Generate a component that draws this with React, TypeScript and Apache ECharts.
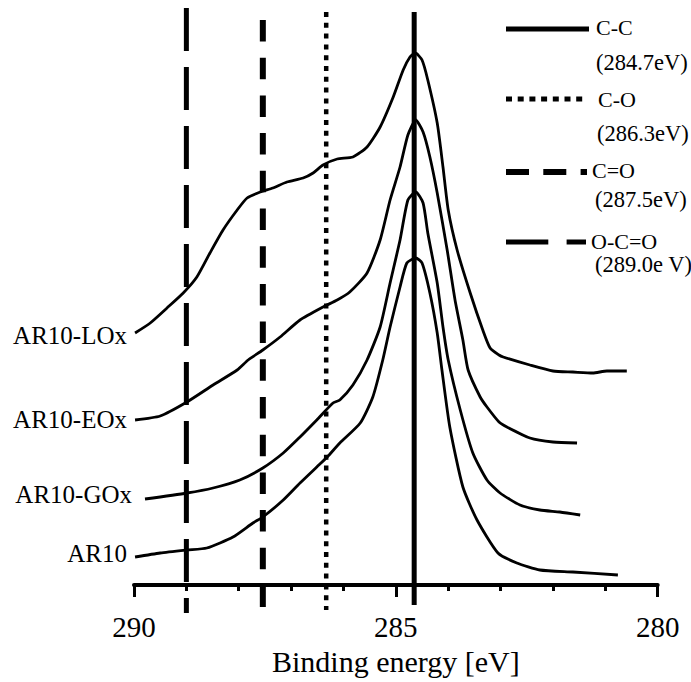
import React, { useEffect, useRef } from 'react';
import * as echarts from 'echarts';

// Binding energy axis [eV] (reversed: 290 on the left, 280 on the right)
const X_MIN = 280;
const X_MAX = 290;
const MAJOR_STEP = 5;
const AXIS_TITLE = 'Binding energy [eV]';

// Intensity (arbitrary units, offset stacked spectra)
const Y_MIN = -28;
const Y_MAX = 577;
const BASELINE = 0;

// Spectra: [binding energy (eV), intensity (a.u.)]
const AR10_LOX = [
  [289.98, 252], [289.69, 262], [289.37, 277], [289.06, 292], [288.8, 308], [288.55, 332],
  [288.3, 355], [288.03, 375], [287.84, 387], [287.59, 393], [287.35, 397], [287.08, 403],
  [286.77, 407], [286.58, 412], [286.39, 420], [286.12, 426], [285.82, 428], [285.55, 438],
  [285.3, 458], [285.05, 488], [284.86, 515], [284.73, 528], [284.63, 532], [284.5, 525],
  [284.39, 505], [284.21, 462], [284.1, 418], [284.0, 375], [283.83, 335], [283.58, 292],
  [283.34, 255], [283.2, 237], [283.03, 230], [282.95, 228], [282.44, 220], [282.0, 214],
  [281.62, 213], [281.24, 212], [280.97, 214], [280.59, 214],
];
const AR10_EOX = [
  [289.98, 165], [289.5, 169], [288.99, 183], [288.49, 200], [288.03, 215], [287.82, 225],
  [287.54, 235], [287.21, 248], [286.83, 265], [286.39, 278], [286.12, 285], [285.88, 293],
  [285.55, 312], [285.3, 345], [285.11, 385], [284.92, 418], [284.77, 450], [284.62, 465],
  [284.48, 453], [284.35, 428], [284.21, 392], [284.02, 335], [283.87, 285], [283.72, 245],
  [283.62, 215], [283.39, 188], [283.26, 178], [283.03, 163], [282.88, 158], [282.44, 147],
  [282.0, 143], [281.54, 142],
];
const AR10_GOX = [
  [289.79, 86], [288.99, 92], [288.49, 97], [287.98, 105], [287.54, 117], [287.15, 132],
  [286.83, 148], [286.51, 165], [286.2, 182], [286.07, 185], [285.82, 200], [285.55, 225],
  [285.3, 258], [285.11, 302], [284.92, 345], [284.77, 385], [284.62, 393], [284.48, 382],
  [284.39, 352], [284.21, 302], [284.1, 258], [284.0, 225], [283.77, 175], [283.53, 132],
  [283.26, 105], [283.01, 92], [282.63, 80], [282.25, 75], [281.87, 73], [281.48, 70],
];
const AR10 = [
  [289.98, 28], [289.5, 32], [288.99, 35], [288.61, 37], [288.11, 48], [287.73, 62],
  [287.54, 68], [287.15, 85], [286.83, 102], [286.51, 118], [286.31, 128], [286.07, 142],
  [285.68, 162], [285.44, 188], [285.25, 225], [285.11, 258], [284.92, 298], [284.79, 322],
  [284.62, 327], [284.5, 322], [284.35, 292], [284.21, 252], [284.12, 215], [283.97, 158],
  [283.72, 98], [283.45, 65], [283.05, 32], [282.69, 22], [282.25, 15], [281.62, 13],
  [280.76, 10],
];
const SPECTRA = [AR10_LOX, AR10_EOX, AR10_GOX, AR10];
const SAMPLE_NAMES = ['AR10-LOx', 'AR10-EOx', 'AR10-GOx', 'AR10'];

// Chemical-state reference lines
const COMPONENT_NAMES = ['C-C', 'C-O', 'C=O', 'O-C=O'];
const COMPONENT_LABELS = ['(284.7eV)', '(286.3eV)', '(287.5eV)', '(289.0e V)'];
const COMPONENT_ENERGY = [284.65, 286.33, 287.54, 289.0];

const FONT = 'Liberation Serif, Times New Roman, serif';

// styles for each reference line (same order as COMPONENT_*)
const REF_STYLE = [
  { width: 5, dash: 'solid' as any, top: 573, bottom: -20 },
  { width: 4.5, dash: [5, 5.8], top: 573, bottom: -25 },
  { width: 6, dash: [21.5, 16.2], top: 565, bottom: -22 },
  { width: 5, dash: [43, 16], top: 577, bottom: -28 },
];
const LEGEND_STYLE = [
  { y: 29, x2: 589, width: 5, dash: null as any, ty: 27, tx: 596, ly: 62, lx: 596 },
  { y: 99, x2: 587, width: 5, dash: [6, 5.7], ty: 99, tx: 598, ly: 133, lx: 597 },
  { y: 172, x2: 587, width: 6, dash: [23, 14.3], ty: 170, tx: 592, ly: 199, lx: 595 },
  { y: 242, x2: 586, width: 5, dash: [42.3, 18.3], ty: 241, tx: 591, ly: 264, lx: 595 },
];
const SAMPLE_LABEL_POS = [
  { x: 127, y: 335 },
  { x: 127, y: 419 },
  { x: 132, y: 494 },
  { x: 127, y: 553 },
];

export default function App() {
  const ref = useRef<HTMLDivElement>(null);
  useEffect(() => {
    if (!ref.current) return;
    const chart = echarts.init(ref.current, undefined, { renderer: 'svg' });

    const curveSeries = SPECTRA.map((d, i) => ({
      type: 'line',
      name: SAMPLE_NAMES[i],
      data: d,
      showSymbol: false,
      symbol: 'none',
      smooth: 0.2,
      lineStyle: { color: '#000', width: 2.8 },
      z: 2,
    }));
    const refSeries = COMPONENT_ENERGY.map((e, i) => ({
      type: 'line',
      name: COMPONENT_NAMES[i],
      data: [
        [e, REF_STYLE[i].top],
        [e, REF_STYLE[i].bottom],
      ],
      showSymbol: false,
      symbol: 'none',
      lineStyle: { color: '#000', width: REF_STYLE[i].width, type: REF_STYLE[i].dash, cap: 'butt' },
      z: 3,
      ...(i === 0
        ? {
            markLine: {
              silent: true,
              symbol: ['none', 'none'],
              label: { show: false },
              lineStyle: { color: '#000', width: 4, type: 'solid' },
              data: [{ yAxis: BASELINE }],
            },
          }
        : {}),
    }));

    const graphics: any[] = [];
    COMPONENT_NAMES.forEach((n, i) => {
      const s = LEGEND_STYLE[i];
      graphics.push({
        type: 'line',
        shape: { x1: 506, y1: s.y, x2: s.x2, y2: s.y },
        style: { stroke: '#000', lineWidth: s.width, lineDash: s.dash || undefined, lineCap: 'butt' },
      });
      graphics.push({
        type: 'text', x: s.tx, y: s.ty,
        style: { text: n, font: `22px ${FONT}`, fill: '#000', align: 'left', verticalAlign: 'middle', textAlign: 'left', textVerticalAlign: 'middle' },
      });
      graphics.push({
        type: 'text', x: s.lx, y: s.ly,
        style: { text: COMPONENT_LABELS[i], font: `22.5px ${FONT}`, fill: '#000', align: 'left', verticalAlign: 'middle', textAlign: 'left', textVerticalAlign: 'middle' },
      });
    });
    SAMPLE_NAMES.forEach((n, i) => {
      const p = SAMPLE_LABEL_POS[i];
      graphics.push({
        type: 'text', x: p.x, y: p.y,
        style: { text: n, font: `25px ${FONT}`, fill: '#000', align: 'right', verticalAlign: 'middle', textAlign: 'right', textVerticalAlign: 'middle' },
      });
    });

    chart.setOption({
      animation: false,
      backgroundColor: '#fff',
      grid: { left: 134, right: 33.3, top: 8, bottom: 69, containLabel: false, outerBoundsMode: 'none' },
      xAxis: {
        type: 'value',
        min: X_MIN,
        max: X_MAX,
        interval: MAJOR_STEP,
        inverse: true,
        name: AXIS_TITLE,
        nameLocation: 'middle',
        nameGap: 33,
        nameTextStyle: { fontFamily: FONT, fontSize: 30, color: '#000' },
        axisLine: { show: true, onZero: true, lineStyle: { color: '#000', width: 4 } },
        axisTick: { show: true, length: 12, lineStyle: { color: '#000', width: 3 } },
        minorTick: { show: true, splitNumber: 5, length: 6, lineStyle: { color: '#000', width: 3 } },
        axisLabel: { fontFamily: FONT, fontSize: 29, color: '#000', margin: -1, showMinLabel: true, showMaxLabel: true },
        splitLine: { show: false },
      },
      yAxis: {
        type: 'value',
        min: Y_MIN,
        max: Y_MAX,
        show: false,
        splitLine: { show: false },
      },
      series: [...curveSeries, ...refSeries],
      graphic: graphics,
    });
    return () => chart.dispose();
  }, []);
  return <div ref={ref} style={{ position: 'absolute', left: 0, top: 0, width: 691, height: 682 }} />;
}
